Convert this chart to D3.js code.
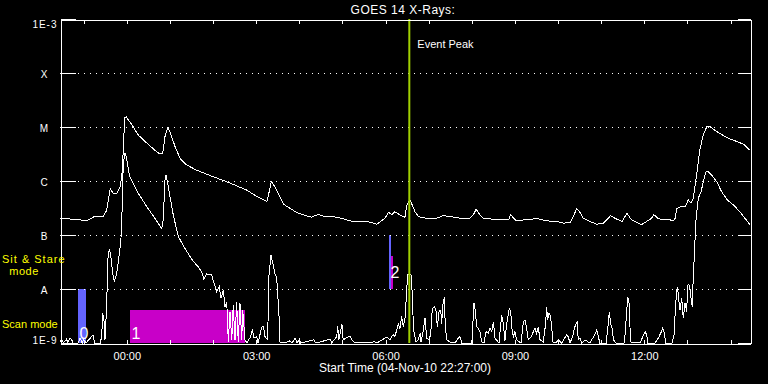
<!DOCTYPE html>
<html>
<head>
<meta charset="utf-8">
<script src="https://cdn.jsdelivr.net/npm/d3@7"></script>
<style>
  html, body { margin: 0; padding: 0; background: #000; }
  svg { display: block; }
  text { font-family: "Liberation Sans", Arial, sans-serif; fill: #fff; }
  .axis path, .axis line { stroke: #fff; shape-rendering: crispEdges; }
</style>
</head>
<body>
<script>
// start of the plotted interval, 04-Nov-10 22:27:00 UT, 16 hours shown
var startTime = Date.UTC(2010, 10, 4, 22, 27, 0);
var spanMinutes = 960;

// GOES 14 long channel (1-8 A): [minutes after start, log10 flux W/m^2]
var longChannel = [
  [0,-6.69],[11,-6.70],[28,-6.72],[37,-6.74],[49,-6.65],[60,-6.66],[65,-6.54],[70,-6.14],
  [74,-6.23],[79,-6.23],[83.5,-6.11],[86,-5.92],[88,-5.43],[90,-4.83],[92,-4.81],[100,-4.96],
  [109,-5.15],[121,-5.30],[132,-5.43],[139,-5.50],[143,-5.48],[146,-5.18],[150,-5.01],[153,-5.09],
  [160,-5.36],[167,-5.58],[176,-5.70],[190,-5.80],[213,-5.92],[237,-6.04],[260,-6.17],[274,-6.29],
  [288,-6.38],[291,-6.20],[294,-6.01],[299,-6.11],[306,-6.29],[311,-6.43],[318,-6.49],[329,-6.58],
  [341,-6.64],[350,-6.67],[359,-6.62],[369,-6.66],[380,-6.66],[392,-6.69],[404,-6.74],[417,-6.75],
  [431,-6.76],[441,-6.80],[445,-6.76],[452,-6.69],[457,-6.58],[462,-6.62],[466,-6.57],[473,-6.63],
  [480,-6.67],[482,-6.48],[484,-6.41],[487,-6.35],[489,-6.41],[494,-6.57],[499,-6.66],[510,-6.69],
  [524,-6.69],[533,-6.64],[543,-6.66],[557,-6.69],[570,-6.69],[575,-6.63],[579,-6.52],[584,-6.62],
  [589,-6.69],[598,-6.70],[608,-6.72],[617,-6.71],[624,-6.72],[627,-6.62],[631,-6.69],[635,-6.74],
  [645,-6.72],[654,-6.72],[661,-6.69],[668,-6.71],[679,-6.74],[691,-6.75],[700,-6.78],[710,-6.77],
  [714,-6.66],[719,-6.51],[723,-6.57],[728,-6.69],[737,-6.75],[747,-6.80],[756,-6.78],[763,-6.69],
  [766,-6.64],[772,-6.69],[782,-6.75],[786,-6.66],[789,-6.60],[795,-6.72],[802,-6.76],[809,-6.81],
  [816,-6.75],[823,-6.69],[826,-6.62],[832,-6.69],[839,-6.72],[849,-6.72],[853,-6.74],[856,-6.69],
  [858,-6.51],[863,-6.48],[870,-6.48],[874,-6.35],[878,-6.41],[881,-6.32],[886,-5.86],[890,-5.43],
  [895,-5.15],[900,-4.99],[904,-4.99],[911,-5.06],[918,-5.12],[930,-5.21],[942,-5.27],[951,-5.32],
  [960,-5.43]
];

// GOES 14 short channel (0.5-4 A), same layout; -9 means at or below 1E-9
var shortChannel = [
  [0,-8.98],[2,-8.94],[5,-8.99],[9,-8.93],[11,-8.99],[14,-8.91],[16,-8.93],[18,-9],[25,-9],
  [28,-8.91],[31,-9],[33,-8.93],[36,-9],[46,-8.85],[48,-9],[56,-9],[58,-8.88],[59.4,-8.45],
  [61,-8.54],[62.6,-8.94],[65,-8.30],[66.4,-7.46],[68.6,-7.26],[70.5,-7.37],[73.3,-7.71],
  [75.5,-7.86],[78.9,-7.71],[81,-7.52],[83.5,-7.24],[85,-7.03],[86,-6.72],[87,-6.17],[88,-5.70],
  [89.5,-5.56],[90.4,-5.49],[92,-5.54],[97,-5.92],[109,-6.23],[121,-6.48],[132,-6.69],[139,-6.83],
  [141.5,-6.88],[143.7,-6.72],[146,-5.98],[147.5,-5.89],[150.7,-6.11],[157.6,-6.63],[164.6,-7.03],
  [174,-7.25],[181,-7.40],[185.5,-7.49],[192.4,-7.59],[197,-7.68],[200.3,-7.82],[204,-7.72],
  [211,-7.74],[214.3,-7.89],[218,-8.05],[221.6,-7.96],[224,-8.17],[227.2,-8.02],[229.6,-8.33],
  [232,-8.24],[234.2,-8.98],[236.5,-8.42],[239,-8.94],[241,-8.30],[243.5,-8.94],[245.8,-8.24],
  [248,-8.98],[250.4,-8.26],[252.8,-8.94],[254.2,-8.39],[257.4,-8.94],[260,-9],[265.3,-8.88],
  [267.5,-8.75],[270,-8.91],[273.7,-8.88],[275.5,-9],[280.6,-8.71],[283,-8.69],[285.2,-8.88],
  [289,-8.94],[290.4,-7.80],[292.2,-7.56],[293.6,-7.37],[296,-7.52],[299,-7.71],[301.5,-7.80],
  [303,-8.11],[305,-8.57],[306,-8.98],[313,-9],[320,-8.96],[323,-9],[327,-8.91],[330,-9],
  [333,-8.93],[335,-9],[353,-8.94],[356,-9],[376,-8.93],[378,-9],[385,-8.88],[386.4,-8.69],
  [388,-8.94],[392.3,-8.65],[394,-8.94],[403.5,-8.87],[406,-8.94],[410,-9],[438,-8.98],[441,-9],
  [454.5,-8.89],[459,-8.94],[461.5,-8.88],[463.7,-8.85],[466,-8.88],[468.4,-8.76],[470.7,-8.64],
  [473,-8.73],[475.4,-8.51],[477.6,-8.70],[480,-8.54],[482.4,-8.02],[483.7,-7.74],[488.3,-7.74],
  [489.3,-7.83],[490.7,-8.39],[492.5,-8.79],[495.3,-8.98],[498.5,-8.94],[501,-8.82],[502.3,-8.98],
  [505.5,-8.76],[507.8,-8.54],[510.2,-8.91],[513.8,-8.94],[515.8,-8.82],[518,-8.36],[520.8,-8.33],
  [523,-8.39],[525,-8.70],[527.3,-8.42],[529.7,-8.39],[531,-8.64],[533.3,-8.20],[534.7,-8.17],
  [536,-8.67],[538,-8.94],[542.6,-8.98],[549.6,-9],[554,-8.91],[556.5,-8.88],[559,-9],[573,-9],
  [576,-8.26],[577.8,-8.39],[579.8,-8.70],[582,-8.73],[584.3,-8.79],[586.7,-8.98],[590,-9],
  [592.7,-8.79],[596,-8.82],[598.3,-8.73],[600.6,-8.79],[603,-8.61],[605.2,-8.91],[610.8,-9],
  [614.5,-8.48],[616.8,-8.64],[619,-8.96],[621.5,-8.64],[625,-8.36],[627,-8.42],[629,-8.76],
  [630.7,-8.88],[633,-8.79],[635.4,-8.94],[641.4,-9],[644.6,-8.61],[647,-8.57],[649.3,-8.73],
  [651.5,-8.94],[656,-8.88],[658.5,-8.79],[661,-8.73],[663,-8.82],[665.4,-8.70],[667.8,-8.94],
  [672.4,-8.98],[675.7,-8.64],[677,-8.33],[678.5,-8.57],[680.3,-8.45],[681.7,-8.48],[684,-8.67],
  [685.5,-8.98],[690,-9],[693.3,-8.94],[698,-9],[705,-8.85],[707,-8.88],[709.6,-9],[714,-8.85],
  [715.6,-8.73],[718,-8.64],[719.7,-8.61],[721,-8.94],[723.5,-8.91],[726,-9],[730.4,-8.94],
  [737,-9],[744,-8.85],[746.7,-8.76],[749,-8.88],[751,-9],[760,-9],[763,-8.61],[764.3,-8.42],
  [766,-8.64],[768,-8.73],[770,-8.94],[773.6,-9],[784.7,-9],[786,-8.88],[788.5,-8.39],[790,-8.14],
  [791.7,-8.26],[793,-8.70],[794,-8.98],[807,-9],[814,-8.79],[816.3,-8.85],[818,-9],[828,-9],
  [832.4,-8.91],[835.7,-8.82],[838.5,-8.73],[840.3,-8.79],[843,-9],[851.5,-9],[854.3,-8.85],
  [855.6,-8.51],[858,-8.02],[859.4,-7.96],[860.2,-8.14],[862.6,-8.39],[865,-8.17],[867.2,-8.54],
  [869.6,-8.26],[871.9,-8.42],[873.3,-7.93],[875,-7.91],[876.5,-8.02],[879.7,-8.33],[881,-7.77],
  [882.5,-7.40],[884.5,-6.78],[888,-6.32],[892,-6.20],[895,-6.01],[898.8,-5.83],[902,-5.83],
  [906.7,-5.89],[913.6,-6.01],[920.6,-6.20],[928.4,-6.35],[936.7,-6.44],[946,-6.57],[953,-6.69],
  [960,-6.81]
];

// flux class levels on the y axis
var levelValues = [1e-9, 1e-8, 1e-7, 1e-6, 1e-5, 1e-4, 1e-3];
var levelLabels = ["1E-9", "A", "B", "C", "M", "X", "1E-3"];

// observing mode bars: [raster, kind, start min, end min, log flux bottom, log flux top]
var modeBars = [
  [0, "a", 25, 36, -9, -8],
  [1, "b", 97.4, 257.4, -9, -8.39],
  [2, "a", 457.7, 460.5, -8, -7],
  [2, "b", 460.5, 463.3, -8, -7.39]
];
var rasterLabels = ["0", "1", "2"];
var rasterLabelLevels = [-8.93, -8.93, -7.80];
var modeNames = ["Sit & Stare", "mode", "Scan mode"];

var eventPeakMinute = 486;  // 06:33 UT

var width = 768, height = 384;
var plotLeft = 60, plotRight = 750, plotTop = 19, plotBottom = 343;

var svg = d3.select("body").append("svg")
    .attr("width", width)
    .attr("height", height)
    .style("background", "#000");

function minuteDate(m) { return new Date(startTime + m * 60000); }

var x = d3.scaleUtc()
    .domain([minuteDate(0), minuteDate(spanMinutes)])
    .range([plotLeft, plotRight]);

var y = d3.scaleLog()
    .domain([1e-9, 1e-3])
    .range([plotBottom, plotTop])
    .clamp(true);

var barColor = { a: "#6464ff", b: "#c800c8" };

// mode bars
svg.append("g").selectAll("rect")
    .data(modeBars)
    .enter().append("rect")
    .attr("x", function(d) { return x(minuteDate(d[2])); })
    .attr("width", function(d) { return x(minuteDate(d[3])) - x(minuteDate(d[2])); })
    .attr("y", function(d) { return y(Math.pow(10, d[5])); })
    .attr("height", function(d) { return y(Math.pow(10, d[4])) - y(Math.pow(10, d[5])); })
    .style("fill", function(d) { return barColor[d[1]]; })
    .style("shape-rendering", "crispEdges");

// dotted grid at the class levels
svg.append("g").selectAll("line")
    .data(levelValues.slice(1, -1))
    .enter().append("line")
    .attr("x1", plotLeft).attr("x2", plotRight)
    .attr("y1", function(d) { return Math.round(y(d)) + 0.5; })
    .attr("y2", function(d) { return Math.round(y(d)) + 0.5; })
    .style("stroke", "#fff")
    .style("stroke-dasharray", "1,5")
    .style("shape-rendering", "crispEdges");

var line = d3.line()
    .x(function(d) { return x(minuteDate(d[0])); })
    .y(function(d) { return y(Math.pow(10, d[1])); });

svg.append("path").datum(shortChannel)
    .attr("d", line)
    .style("fill", "none").style("stroke", "#fff").style("stroke-width", 1)
    .style("shape-rendering", "crispEdges");

svg.append("path").datum(longChannel)
    .attr("d", line)
    .style("fill", "none").style("stroke", "#fff").style("stroke-width", 1)
    .style("shape-rendering", "crispEdges");

// raster numbers
var firstBar = {};
modeBars.forEach(function(b) { if (!(b[0] in firstBar)) firstBar[b[0]] = b[2]; });
svg.append("g").selectAll("text")
    .data(rasterLabels)
    .enter().append("text")
    .attr("x", function(d, i) { return x(minuteDate(firstBar[i])) + 1.5; })
    .attr("y", function(d, i) { return y(Math.pow(10, rasterLabelLevels[i])); })
    .style("font-size", "16px")
    .style("font-weight", "300")
    .text(function(d) { return d; });

// event peak marker
var px = x(minuteDate(eventPeakMinute));
svg.append("line")
    .attr("x1", px).attr("x2", px)
    .attr("y1", plotTop).attr("y2", plotBottom)
    .style("stroke", "#a0d000")
    .style("stroke-width", 2);
svg.append("text")
    .attr("x", px + 8).attr("y", 48)
    .style("font-size", "11px")
    .text("Event Peak");

// axes
var hourFmt = d3.utcFormat("%H:%M");

svg.append("g").attr("class", "axis")
    .attr("transform", "translate(0," + (plotBottom + 0.5) + ")")
    .call(d3.axisBottom(x).ticks(d3.utcHour.every(1)).tickSize(-4).tickSizeOuter(0).tickPadding(9)
        .tickFormat(function(d) { return d.getUTCHours() % 3 === 0 ? hourFmt(d) : ""; }))
    .call(function(g) {
        g.selectAll("text").style("font-size", "11px").style("font-family", null).attr("fill", null);
    });

svg.append("g").attr("class", "axis")
    .attr("transform", "translate(0," + (plotTop + 0.5) + ")")
    .call(d3.axisTop(x).ticks(d3.utcHour.every(1)).tickSize(-4).tickSizeOuter(0).tickFormat(""));

svg.append("g").attr("class", "axis")
    .attr("transform", "translate(" + (plotLeft + 0.5) + ",0)")
    .call(d3.axisLeft(y).tickValues(levelValues).tickSize(-15).tickSizeOuter(0).tickPadding(3)
        .tickFormat(function(d, i) { return levelLabels[i]; }))
    .call(function(g) {
        g.selectAll("text")
            .style("font-size", "10px").style("font-family", null).attr("fill", null)
            .style("letter-spacing", "1px")
            .attr("dy", function(d, i) { return i === 0 ? "0" : (i === 6 ? "0.85em" : "0.42em"); })
            .attr("x", function(d, i) { return (i === 0 || i === 6) ? -3 : -16; })
            .attr("text-anchor", function(d, i) { return (i === 0 || i === 6) ? "end" : "middle"; });
    });

svg.append("g").attr("class", "axis")
    .attr("transform", "translate(" + (plotRight + 0.5) + ",0)")
    .call(d3.axisRight(y).tickValues(levelValues).tickSize(-13).tickSizeOuter(0).tickFormat(""));

// titles
svg.append("text")
    .attr("x", 403).attr("y", 14)
    .attr("text-anchor", "middle")
    .style("font-size", "12px")
    .style("letter-spacing", "0.5px")
    .text("GOES 14 X-Rays:");

svg.append("text")
    .attr("x", 405).attr("y", 372)
    .attr("text-anchor", "middle")
    .style("font-size", "12px")
    .text("Start Time (04-Nov-10 22:27:00)");

// mode legend on the left
svg.append("text").attr("x", 2).attr("y", 263)
    .style("fill", "#ffff00").style("font-size", "11px").style("letter-spacing", "1px")
    .text(modeNames[0]);
svg.append("text").attr("x", 24).attr("y", 275).attr("text-anchor", "middle")
    .style("fill", "#ffff00").style("font-size", "11px").style("letter-spacing", "0.5px")
    .text(modeNames[1]);
svg.append("text").attr("x", 2).attr("y", 328)
    .style("fill", "#ffff00").style("font-size", "11px")
    .text(modeNames[2]);
</script>
</body>
</html>
